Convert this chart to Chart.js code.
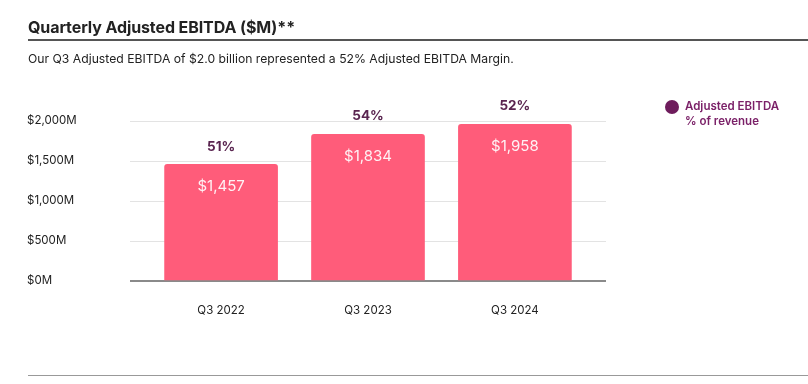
<!DOCTYPE html>
<html>
<head>
<meta charset="utf-8">
<script src="https://cdn.jsdelivr.net/npm/chart.js@4.4.1/dist/chart.umd.min.js"></script>
<style>
  html, body { margin: 0; padding: 0; background: #fff; }
  body { width: 808px; height: 384px; position: relative; overflow: hidden; font-family: "Inter", "Lato", sans-serif; }
  #title { position: absolute; left: 28px; top: 17px; font-size: 16px; font-weight: 700; color: #222; white-space: nowrap; letter-spacing: -0.1px; }
  #rule1 { position: absolute; left: 28px; right: 0; top: 39px; height: 2px; background: #555; }
  #sub { position: absolute; left: 28px; top: 51px; font-size: 12.2px; color: #222; white-space: nowrap; }
  #rule2 { position: absolute; left: 28px; right: 0; top: 375px; height: 1px; background: #999; }
  #legend { position: absolute; left: 665px; top: 100px; }
  #legend .dot { position: absolute; left: 0; top: 0; width: 14px; height: 14px; border-radius: 50%; background: #6e1c5c; }
  #legend .txt { position: absolute; left: 20px; top: -1px; font-size: 11.5px; font-weight: 600; color: #7b2168; line-height: 15px; white-space: nowrap; }
  #wrap { position: absolute; left: 0; top: 0; width: 808px; height: 384px; }
</style>
</head>
<body>
<div id="wrap"><canvas id="c"></canvas></div>
<div id="title">Quarterly Adjusted EBITDA ($M)**</div>
<div id="rule1"></div>
<div id="sub">Our Q3 Adjusted EBITDA of $2.0 billion represented a 52% Adjusted EBITDA Margin.</div>
<div id="rule2"></div>
<div id="legend"><div class="dot"></div><div class="txt">Adjusted EBITDA<br>% of revenue</div></div>
<script>
const quarters = ['Q3 2022', 'Q3 2023', 'Q3 2024'];
const ebitda = [1457, 1834, 1958];
const margins = [51, 54, 52];
const yTicks = [0, 500, 1000, 1500, 2000];

const labelPlugin = {
  id: 'barLabels',
  afterDatasetsDraw(chart) {
    const ctx = chart.ctx;
    const meta = chart.getDatasetMeta(0);
    ctx.save();
    ctx.textAlign = 'center';
    ctx.textBaseline = 'middle';
    meta.data.forEach((bar, i) => {
      ctx.font = '700 13.5px Inter, Lato, sans-serif';
      ctx.fillStyle = '#5a2550';
      ctx.fillText(margins[i] + '%', bar.x, bar.y - 18);
      ctx.font = '400 15px Inter, Lato, sans-serif';
      ctx.fillStyle = 'rgba(255,255,255,0.92)';
      ctx.fillText('$' + ebitda[i].toLocaleString('en-US'), bar.x, bar.y + 22);
    });
    ctx.restore();
  }
};

new Chart(document.getElementById('c'), {
  type: 'bar',
  data: {
    datasets: [{
      label: 'Adjusted EBITDA',
      data: ebitda.map((v, i) => ({ x: i, y: v })),
      backgroundColor: '#ff5c7a',
      barThickness: 113,
      borderRadius: { topLeft: 3, topRight: 3, bottomLeft: 0, bottomRight: 0 },
      borderSkipped: 'start'
    }]
  },
  options: {
    responsive: true,
    maintainAspectRatio: false,
    animation: false,
    layout: { padding: { left: 27, right: 202, top: 121, bottom: 63 } },
    plugins: { legend: { display: false }, tooltip: { enabled: false } },
    scales: {
      x: {
        type: 'linear',
        offset: false,
        min: -0.62,
        max: 2.62,
        afterBuildTicks: (s) => { s.ticks = quarters.map((_, i) => ({ value: i })); },
        afterFit: (s) => { s.height = 40; },
        grid: { display: false, drawTicks: false, offset: false },
        border: { display: false },
        ticks: {
          padding: 23,
          color: '#222',
          font: { family: 'Inter, Lato, sans-serif', size: 11.5 },
          callback: (v) => quarters[v],
          maxRotation: 0
        }
      },
      y: {
        min: 0,
        max: 2000,
        afterBuildTicks: (s) => { s.ticks = yTicks.map(v => ({ value: v })); },
        afterFit: (s) => { s.width = 103; },
        grid: {
          drawTicks: false,
          color: (c) => (c.tick && c.tick.value === 0) ? '#8a8a8a' : '#e3e3e3',
          lineWidth: (c) => (c.tick && c.tick.value === 0) ? 2 : 1
        },
        border: { display: false },
        ticks: {
          crossAlign: 'far',
          padding: 0,
          color: '#222',
          font: { family: 'Inter, Lato, sans-serif', size: 11.5 },
          callback: (v) => '$' + v.toLocaleString('en-US') + 'M'
        }
      }
    }
  },
  plugins: [labelPlugin]
});
</script>
</body>
</html>
